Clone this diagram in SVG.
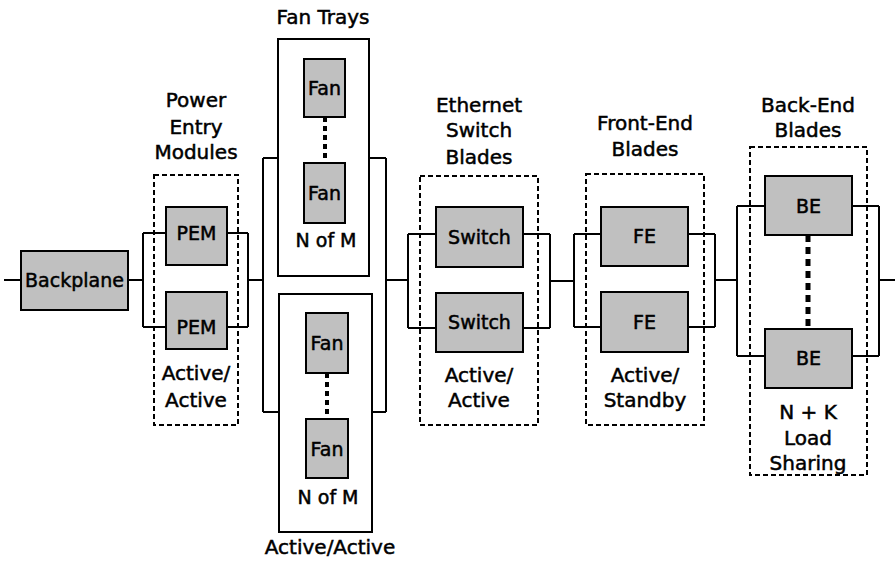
<svg xmlns="http://www.w3.org/2000/svg" width="895" height="561" viewBox="0 0 895 561">
<style>
.box{fill:#c0c0c0;stroke:#000;stroke-width:2}
.tray{fill:#fff;stroke:#000;stroke-width:2}
.grp{fill:none;stroke:#000;stroke-width:2;stroke-dasharray:5 3}
.w{fill:none;stroke:#000;stroke-width:2}
.dot{fill:none;stroke:#000;stroke-width:4;stroke-dasharray:5 4}
.dotb{fill:none;stroke:#000;stroke-width:5;stroke-dasharray:7 5}
text{font-family:"DejaVu Sans","Liberation Sans",sans-serif;fill:#000;stroke:#000;stroke-width:0.5;text-anchor:middle;dominant-baseline:central}
.t{font-size:19px}
.h{font-size:20px}
</style>
<rect width="895" height="561" fill="#fff"/>
<g id="connectors">
<path class="w" d="M4 280H21M128 280H143M143 233V327M143 233H166M143 327H166M227 233H248M227 327H248M248 233V327M248 280H263"/>
<path class="w" d="M263 158V412M263 158H278M263 412H279M369 158H386M372 412H386M386 158V412M386 280H408"/>
<path class="w" d="M408 234V328M408 234H436M408 328H436M523 234H550M523 328H550M550 234V328M550 281H574"/>
<path class="w" d="M574 234V327M574 234H601M574 327H601M688 234H715M688 327H715M715 234V327M715 280H737"/>
<path class="w" d="M737 206V356M737 206H765M737 356H765M852 206H879M852 356H879M879 206V356M879 280H895"/>
</g>
<g id="backplane">
<rect class="box" x="21" y="251" width="107" height="59"/>
<text class="t" x="74.5" y="280">Backplane</text>
</g>
<g id="pem-group">
<rect class="grp" x="154" y="175" width="84" height="250"/>
<text class="h" x="196" y="100">Power</text>
<text class="h" x="196" y="127">Entry</text>
<text class="h" x="196" y="152">Modules</text>
<text class="h" x="196" y="373">Active/</text>
<text class="h" x="196" y="400">Active</text>
</g>
<g id="pem1">
<rect class="box" x="166" y="207" width="61" height="58"/>
<text class="t" x="196.5" y="233">PEM</text>
</g>
<g id="pem2">
<rect class="box" x="166" y="292" width="61" height="57"/>
<text class="t" x="196.5" y="327">PEM</text>
</g>
<g id="fan-tray-1">
<text class="h" x="323" y="17">Fan Trays</text>
<rect class="tray" x="278" y="39" width="91" height="237"/>
<line class="dot" x1="325" y1="117" x2="325" y2="163"/>
<rect class="box" x="304" y="59" width="41" height="58"/>
<text class="t" x="324.5" y="88">Fan</text>
<rect class="box" x="304" y="163" width="41" height="60"/>
<text class="t" x="324.5" y="193">Fan</text>
<text class="t" x="326" y="240">N of M</text>
</g>
<g id="fan-tray-2">
<rect class="tray" x="279" y="294" width="93" height="238"/>
<line class="dot" x1="327" y1="373" x2="327" y2="419"/>
<rect class="box" x="306" y="313" width="42" height="60"/>
<text class="t" x="327" y="343">Fan</text>
<rect class="box" x="306" y="419" width="42" height="59"/>
<text class="t" x="327" y="449">Fan</text>
<text class="t" x="328" y="497">N of M</text>
<text class="h" x="330" y="547">Active/Active</text>
</g>
<g id="switch-group">
<rect class="grp" x="420" y="176" width="118" height="249"/>
<text class="h" x="479" y="105">Ethernet</text>
<text class="h" x="479" y="130">Switch</text>
<text class="h" x="479" y="157">Blades</text>
<text class="h" x="479" y="375">Active/</text>
<text class="h" x="479" y="400">Active</text>
</g>
<g id="switch1">
<rect class="box" x="436" y="207" width="87" height="60"/>
<text class="t" x="479.5" y="237">Switch</text>
</g>
<g id="switch2">
<rect class="box" x="436" y="293" width="87" height="59"/>
<text class="t" x="479.5" y="322">Switch</text>
</g>
<g id="fe-group">
<rect class="grp" x="586" y="174" width="118" height="251"/>
<text class="h" x="645" y="123">Front-End</text>
<text class="h" x="645" y="149">Blades</text>
<text class="h" x="645" y="375">Active/</text>
<text class="h" x="645" y="400">Standby</text>
</g>
<g id="fe1">
<rect class="box" x="601" y="207" width="87" height="59"/>
<text class="t" x="644.5" y="236">FE</text>
</g>
<g id="fe2">
<rect class="box" x="601" y="292" width="87" height="60"/>
<text class="t" x="644.5" y="322">FE</text>
</g>
<g id="be-group">
<rect class="grp" x="750" y="147" width="117" height="328"/>
<text class="h" x="808" y="105">Back-End</text>
<text class="h" x="808" y="130">Blades</text>
<line class="dotb" x1="808" y1="235" x2="808" y2="329"/>
<text class="h" x="808" y="412">N + K</text>
<text class="h" x="808" y="438">Load</text>
<text class="h" x="808" y="463">Sharing</text>
</g>
<g id="be1">
<rect class="box" x="765" y="176" width="87" height="59"/>
<text class="t" x="808.5" y="206">BE</text>
</g>
<g id="be2">
<rect class="box" x="765" y="329" width="87" height="59"/>
<text class="t" x="808.5" y="358">BE</text>
</g>
</svg>
